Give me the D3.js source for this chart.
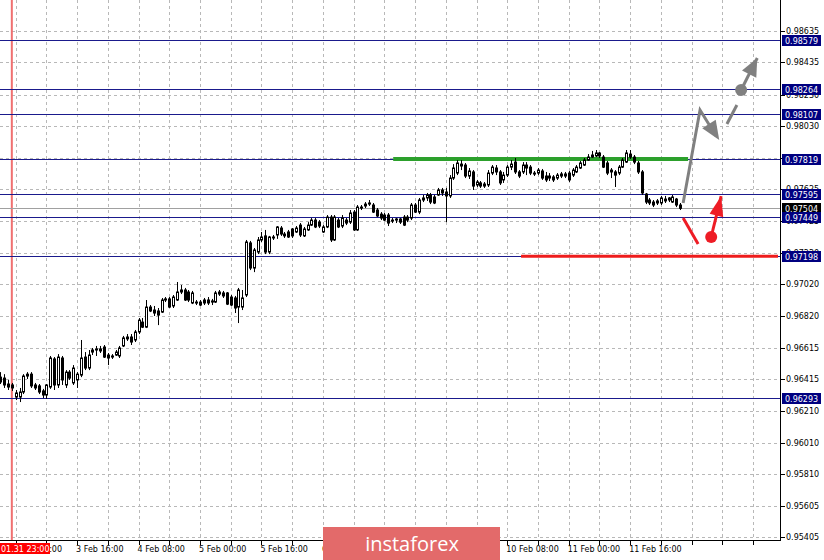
<!DOCTYPE html>
<html><head><meta charset="utf-8">
<script src="https://cdn.jsdelivr.net/npm/d3@7"></script>
<style>
body{margin:0;background:#fff}
svg{display:block}
text{font-family:"DejaVu Sans",Tahoma,sans-serif;font-size:8px}
</style>
</head><body>
<svg id="c" width="824" height="560"></svg>
<script>
// ---- data (H1 bars) ----
const opens=[0.96427,0.96421,0.96383,0.96377,0.96300,0.96300,0.96332,0.96434,0.96446,0.96377,0.96371,0.96339,0.96313,0.96364,0.96543,0.96377,0.96549,0.96377,0.96459,0.96390,0.96409,0.96440,0.96555,0.96485,0.96587,0.96600,0.96607,0.96619,0.96568,0.96555,0.96568,0.96562,0.96626,0.96671,0.96683,0.96664,0.96715,0.96778,0.96746,0.96874,0.96855,0.96849,0.96842,0.96919,0.96926,0.96881,0.96919,0.96970,0.96983,0.96970,0.96900,0.96906,0.96906,0.96919,0.96919,0.96913,0.96906,0.96957,0.96964,0.96964,0.96938,0.96932,0.96874,0.96874,0.96951,0.97283,0.97123,0.97225,0.97302,0.97328,0.97225,0.97321,0.97334,0.97378,0.97340,0.97353,0.97372,0.97353,0.97397,0.97328,0.97366,0.97397,0.97429,0.97416,0.97353,0.97385,0.97448,0.97302,0.97429,0.97391,0.97429,0.97416,0.97480,0.97366,0.97512,0.97519,0.97531,0.97525,0.97493,0.97467,0.97461,0.97461,0.97429,0.97429,0.97436,0.97448,0.97448,0.97442,0.97525,0.97480,0.97557,0.97570,0.97589,0.97576,0.97589,0.97621,0.97608,0.97583,0.97697,0.97729,0.97786,0.97780,0.97710,0.97736,0.97653,0.97666,0.97646,0.97653,0.97729,0.97761,0.97736,0.97685,0.97716,0.97767,0.97799,0.97736,0.97736,0.97780,0.97767,0.97729,0.97729,0.97742,0.97710,0.97697,0.97704,0.97697,0.97710,0.97723,0.97729,0.97716,0.97736,0.97761,0.97780,0.97812,0.97831,0.97838,0.97857,0.97831,0.97793,0.97736,0.97736,0.97729,0.97767,0.97799,0.97850,0.97831,0.97793,0.97736,0.97595,0.97557,0.97544,0.97538,0.97538,0.97563,0.97557,0.97544,0.97563,0.97525];
const highs=[0.96459,0.96446,0.96409,0.96390,0.96345,0.96358,0.96446,0.96459,0.96459,0.96390,0.96383,0.96352,0.96383,0.96562,0.96555,0.96574,0.96562,0.96472,0.96472,0.96504,0.96459,0.96664,0.96587,0.96600,0.96613,0.96626,0.96626,0.96632,0.96581,0.96574,0.96600,0.96626,0.96690,0.96702,0.96702,0.96728,0.96804,0.96804,0.96919,0.96887,0.96881,0.96868,0.96932,0.96938,0.96938,0.96951,0.97034,0.97015,0.96996,0.96983,0.96977,0.96919,0.96919,0.96932,0.96938,0.96926,0.96977,0.96983,0.96977,0.96970,0.96951,0.96945,0.96996,0.96983,0.97302,0.97296,0.97251,0.97321,0.97353,0.97366,0.97328,0.97334,0.97391,0.97391,0.97353,0.97366,0.97378,0.97391,0.97410,0.97385,0.97416,0.97442,0.97442,0.97429,0.97397,0.97461,0.97461,0.97461,0.97442,0.97461,0.97442,0.97493,0.97493,0.97525,0.97525,0.97544,0.97557,0.97538,0.97506,0.97480,0.97474,0.97474,0.97442,0.97442,0.97442,0.97461,0.97461,0.97538,0.97538,0.97570,0.97589,0.97602,0.97602,0.97589,0.97634,0.97634,0.97634,0.97716,0.97786,0.97812,0.97812,0.97793,0.97761,0.97748,0.97685,0.97678,0.97672,0.97748,0.97780,0.97780,0.97748,0.97736,0.97780,0.97812,0.97825,0.97748,0.97799,0.97799,0.97780,0.97742,0.97761,0.97755,0.97736,0.97729,0.97716,0.97729,0.97736,0.97736,0.97742,0.97761,0.97780,0.97806,0.97825,0.97850,0.97870,0.97876,0.97863,0.97844,0.97806,0.97761,0.97748,0.97780,0.97825,0.97876,0.97876,0.97844,0.97806,0.97748,0.97602,0.97570,0.97557,0.97563,0.97583,0.97583,0.97576,0.97589,0.97570,0.97538];
const lows=[0.96383,0.96358,0.96345,0.96339,0.96281,0.96268,0.96319,0.96415,0.96358,0.96345,0.96319,0.96294,0.96288,0.96352,0.96345,0.96358,0.96377,0.96358,0.96409,0.96377,0.96358,0.96427,0.96472,0.96472,0.96568,0.96562,0.96581,0.96549,0.96504,0.96543,0.96562,0.96549,0.96619,0.96658,0.96632,0.96651,0.96702,0.96740,0.96740,0.96842,0.96817,0.96759,0.96836,0.96906,0.96868,0.96868,0.96913,0.96957,0.96913,0.96906,0.96893,0.96887,0.96881,0.96887,0.96887,0.96887,0.96900,0.96945,0.96932,0.96887,0.96881,0.96836,0.96772,0.96855,0.96938,0.97110,0.97097,0.97212,0.97289,0.97212,0.97212,0.97302,0.97309,0.97328,0.97315,0.97315,0.97315,0.97347,0.97321,0.97321,0.97360,0.97391,0.97378,0.97378,0.97347,0.97378,0.97289,0.97296,0.97378,0.97378,0.97397,0.97404,0.97360,0.97360,0.97493,0.97506,0.97519,0.97474,0.97448,0.97429,0.97423,0.97391,0.97410,0.97410,0.97404,0.97391,0.97416,0.97429,0.97474,0.97467,0.97544,0.97551,0.97531,0.97531,0.97583,0.97583,0.97416,0.97570,0.97685,0.97716,0.97748,0.97697,0.97691,0.97621,0.97640,0.97634,0.97634,0.97640,0.97716,0.97716,0.97653,0.97666,0.97704,0.97748,0.97723,0.97697,0.97723,0.97716,0.97716,0.97710,0.97716,0.97685,0.97672,0.97678,0.97672,0.97685,0.97697,0.97697,0.97672,0.97704,0.97729,0.97755,0.97774,0.97806,0.97825,0.97831,0.97825,0.97761,0.97716,0.97697,0.97640,0.97716,0.97761,0.97793,0.97819,0.97786,0.97723,0.97589,0.97531,0.97525,0.97512,0.97525,0.97525,0.97538,0.97544,0.97538,0.97512,0.97493];
const closes=[0.96396,0.96377,0.96364,0.96358,0.96326,0.96332,0.96434,0.96446,0.96371,0.96358,0.96332,0.96313,0.96377,0.96549,0.96377,0.96555,0.96409,0.96459,0.96421,0.96485,0.96446,0.96549,0.96485,0.96568,0.96600,0.96607,0.96594,0.96555,0.96549,0.96562,0.96587,0.96613,0.96677,0.96683,0.96651,0.96715,0.96791,0.96746,0.96874,0.96849,0.96836,0.96823,0.96919,0.96926,0.96874,0.96938,0.96970,0.96983,0.96919,0.96919,0.96964,0.96900,0.96887,0.96900,0.96900,0.96906,0.96964,0.96970,0.96945,0.96893,0.96887,0.96868,0.96983,0.96932,0.97289,0.97123,0.97238,0.97302,0.97321,0.97225,0.97321,0.97315,0.97385,0.97340,0.97328,0.97321,0.97328,0.97378,0.97334,0.97372,0.97397,0.97429,0.97385,0.97391,0.97385,0.97448,0.97302,0.97448,0.97385,0.97442,0.97410,0.97474,0.97366,0.97512,0.97506,0.97531,0.97538,0.97480,0.97455,0.97442,0.97429,0.97410,0.97423,0.97436,0.97416,0.97397,0.97429,0.97525,0.97480,0.97557,0.97570,0.97589,0.97544,0.97538,0.97621,0.97602,0.97583,0.97697,0.97761,0.97793,0.97774,0.97710,0.97742,0.97646,0.97672,0.97646,0.97659,0.97729,0.97767,0.97736,0.97666,0.97716,0.97767,0.97786,0.97736,0.97710,0.97780,0.97761,0.97729,0.97723,0.97748,0.97697,0.97685,0.97710,0.97685,0.97716,0.97723,0.97710,0.97685,0.97748,0.97767,0.97793,0.97812,0.97831,0.97844,0.97857,0.97838,0.97767,0.97729,0.97748,0.97716,0.97767,0.97812,0.97857,0.97831,0.97799,0.97736,0.97602,0.97544,0.97538,0.97525,0.97551,0.97570,0.97551,0.97570,0.97576,0.97525,0.97504];

const priceTicks=[0.98635,0.98435,0.98230,0.98030,0.97825,0.97625,0.97425,0.97220,0.97020,0.96820,0.96615,0.96415,0.96210,0.96010,0.95810,0.95605,0.95405];
const timeLabelIdx=[4,20,36,52,68,84,100,116,132,148,164];
const timeLabels=["3 Feb 00:00","3 Feb 16:00","4 Feb 08:00","5 Feb 00:00","5 Feb 16:00","6 Feb 08:00","7 Feb 00:00","7 Feb 16:00","10 Feb 08:00","11 Feb 00:00","11 Feb 16:00"];
const gridIdx=d3.range(4,200,8);
const levels=[0.98579,0.98264,0.98107,0.97819,0.97595,0.97449,0.97198,0.96293];
const currentPrice=0.97504;
const cursorIdx=3, cursorLabel="01.31 23:00";
const greenSeg=[102.3,179.1], greenPrice=0.97819;
const redSeg=[135.6,202.5], redPrice=0.97198;
// forecast arrows: [barIndex, price]
const grayPath=[[177.8,0.97538],[182.2,0.98131],[187.2,0.97940]];
const grayDashSeg=[[189.2,0.98042],[191.8,0.98163]];
const grayDot=[192.9,0.98259];
const grayTip=[197.1,0.98463];
const redSegA=[[177.8,0.97442],[181.7,0.97276]];
const redDot=[185.1,0.97321];
const redTip=[187.7,0.97582];

// ---- scales ----
const W=780,H=540;
const x=d3.scaleLinear().domain([0,202.5]).range([0.3,778]);
const y=d3.scaleLinear().domain([0.95388,0.98833]).range([H,0]);
const svg=d3.select("#c");

// grid
const g=svg.append("g");
g.selectAll("line.h").data(priceTicks).join("line")
 .attr("x1",0).attr("x2",W).attr("y1",d=>Math.round(y(d))+0.5).attr("y2",d=>Math.round(y(d))+0.5)
 .attr("stroke","#b8b8b8").attr("stroke-dasharray","3,3");
g.selectAll("line.v").data(gridIdx).join("line")
 .attr("x1",d=>Math.round(x(d))+0.5).attr("x2",d=>Math.round(x(d))+0.5).attr("y1",0).attr("y2",H)
 .attr("stroke","#b8b8b8").attr("stroke-dasharray","3,3");

// cursor vertical line
svg.append("line").attr("x1",x(cursorIdx)).attr("x2",x(cursorIdx)).attr("y1",0).attr("y2",H)
 .attr("stroke","#f07070").attr("stroke-width",2);

// levels
svg.selectAll("line.lvl").data(levels).join("line")
 .attr("x1",0).attr("x2",W).attr("y1",d=>Math.round(y(d))+0.5).attr("y2",d=>Math.round(y(d))+0.5)
 .attr("stroke","#1a1a8c").attr("stroke-width",1);
svg.append("line").attr("x1",0).attr("x2",W)
 .attr("y1",Math.round(y(currentPrice))+0.5).attr("y2",Math.round(y(currentPrice))+0.5)
 .attr("stroke","#a0a0a0");

// green and red lines
svg.append("line").attr("x1",x(greenSeg[0])).attr("x2",x(greenSeg[1])).attr("y1",y(greenPrice)).attr("y2",y(greenPrice))
 .attr("stroke","#2ca02c").attr("stroke-width",4);
svg.append("line").attr("x1",x(redSeg[0])).attr("x2",x(redSeg[1])).attr("y1",y(redPrice)).attr("y2",y(redPrice))
 .attr("stroke","#ee1c1c").attr("stroke-width",3);

// candles
const idx=d3.range(closes.length);
const cg=svg.append("g");
cg.selectAll("line").data(idx).join("line")
 .attr("x1",i=>Math.round(x(i))+0.5).attr("x2",i=>Math.round(x(i))+0.5)
 .attr("y1",i=>y(highs[i])).attr("y2",i=>y(lows[i])).attr("stroke","#000");
cg.selectAll("rect").data(idx).join("rect")
 .attr("x",i=>Math.round(x(i))-0.5).attr("width",2)
 .attr("y",i=>Math.min(y(opens[i]),y(closes[i])))
 .attr("height",i=>Math.max(1,Math.abs(y(opens[i])-y(closes[i]))))
 .attr("fill",i=>closes[i]>=opens[i]?"#fff":"#000").attr("stroke","#000");

// arrows
function head(p1,p2,len,w,color){
  const x1=x(p1[0]),y1=y(p1[1]),x2=x(p2[0]),y2=y(p2[1]);
  const dx=x2-x1,dy=y2-y1,L=Math.hypot(dx,dy),ux=dx/L,uy=dy/L;
  const bx=x2-ux*len,by=y2-uy*len;
  svg.append("polygon").attr("points",[[x2,y2],[bx-uy*w,by+ux*w],[bx+uy*w,by-ux*w]].map(p=>p.join(",")).join(" "))
   .attr("fill",color);
}
const line=d3.line().x(d=>x(d[0])).y(d=>y(d[1]));
svg.append("path").attr("d",line(grayPath.slice(0,2).concat([[grayPath[2][0]-0.8,grayPath[2][1]+0.00025]])))
 .attr("fill","none").attr("stroke","#808080").attr("stroke-width",3);
head(grayPath[1],grayPath[2],19,8,"#808080");
svg.append("path").attr("d",line(grayDashSeg)).attr("fill","none").attr("stroke","#808080").attr("stroke-width",3);
svg.append("path").attr("d",line([grayDot,grayTip])).attr("fill","none").attr("stroke","#808080").attr("stroke-width",3);
head(grayDot,grayTip,18,8,"#808080");
svg.append("circle").attr("cx",x(grayDot[0])).attr("cy",y(grayDot[1])).attr("r",6).attr("fill","#808080");
svg.append("path").attr("d",line(redSegA)).attr("fill","none").attr("stroke","#ee1c25").attr("stroke-width",3);
svg.append("path").attr("d",line([redDot,redTip])).attr("fill","none").attr("stroke","#ee1c25").attr("stroke-width",3);
head(redDot,redTip,20,7,"#ee1c25");
svg.append("circle").attr("cx",x(redDot[0])).attr("cy",y(redDot[1])).attr("r",6).attr("fill","#ee1c25");

// axes frame
svg.append("line").attr("x1",W+0.5).attr("x2",W+0.5).attr("y1",0).attr("y2",H+1).attr("stroke","#000");
svg.append("line").attr("x1",0).attr("x2",W+1).attr("y1",H+0.5).attr("y2",H+0.5).attr("stroke","#000");

// right axis ticks & labels
const ra=svg.append("g");
ra.selectAll("line").data(priceTicks).join("line")
 .attr("x1",W+1).attr("x2",W+5).attr("y1",d=>Math.round(y(d))+0.5).attr("y2",d=>Math.round(y(d))+0.5).attr("stroke","#000");
ra.selectAll("text").data(priceTicks).join("text")
 .attr("x",W+6).attr("y",d=>y(d)+3).attr("fill","#000").text(d=>d.toFixed(5));

// level labels
const lb=svg.append("g");
function tag(v,fill){
  lb.append("rect").attr("x",W+2).attr("y",Math.round(y(v))-5).attr("width",39).attr("height",11).attr("fill",fill);
  lb.append("text").attr("x",W+5).attr("y",Math.round(y(v))+4).attr("fill","#fff").text(v.toFixed(5));
}
levels.forEach(v=>tag(v,"#000080"));
tag(currentPrice,"#000");
tag(levels[5],"#000080");

// bottom axis
const ba=svg.append("g");
ba.selectAll("line").data(gridIdx).join("line")
 .attr("x1",d=>Math.round(x(d))+0.5).attr("x2",d=>Math.round(x(d))+0.5).attr("y1",H+1).attr("y2",H+5).attr("stroke","#000");
ba.selectAll("text").data(timeLabelIdx).join("text")
 .attr("x",d=>x(d)-1).attr("y",H+12).attr("fill","#000").text((d,i)=>timeLabels[i]);
// cursor label
svg.append("rect").attr("x",0).attr("y",H+3).attr("width",50).attr("height",11).attr("fill","#ff0000");
svg.append("text").attr("x",1).attr("y",H+12).attr("fill","#fff").text(cursorLabel);

// watermark
svg.append("rect").attr("x",323).attr("y",527).attr("width",177).attr("height",33).attr("fill","#e36a6a");
svg.append("text").attr("x",412).attr("y",551).attr("text-anchor","middle").attr("fill","#fff")
 .style("font-family","'Open Sans',sans-serif").style("font-size","20px").text("instaforex");
</script>
</body></html>
